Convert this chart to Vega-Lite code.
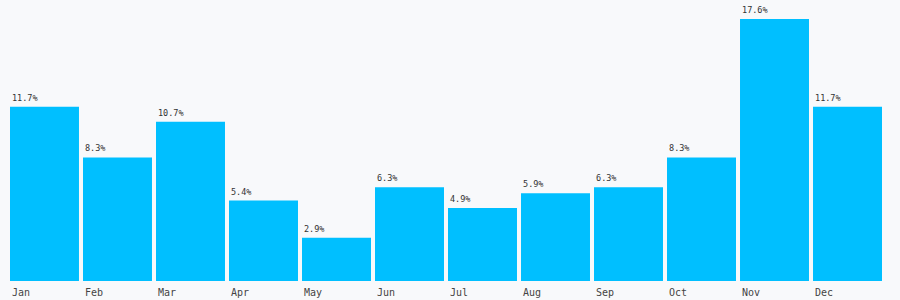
{
  "$schema": "https://vega.github.io/schema/vega-lite/v6.json",
  "width": 872,
  "height": 262,
  "autosize": {"type": "none"},
  "padding": {"left": 10, "top": 19, "right": 18, "bottom": 19},
  "background": "#f8f9fb",
  "config": {"view": {"stroke": null}},
  "data": {"values": [
    {"month": "Jan", "value": 11.7},
    {"month": "Feb", "value": 8.3},
    {"month": "Mar", "value": 10.7},
    {"month": "Apr", "value": 5.4},
    {"month": "May", "value": 2.9},
    {"month": "Jun", "value": 6.3},
    {"month": "Jul", "value": 4.9},
    {"month": "Aug", "value": 5.9},
    {"month": "Sep", "value": 6.3},
    {"month": "Oct", "value": 8.3},
    {"month": "Nov", "value": 17.6},
    {"month": "Dec", "value": 11.7}
  ]},
  "encoding": {
    "x": {
      "field": "month", "type": "nominal", "sort": null,
      "scale": {"paddingInner": 0.055, "paddingOuter": 0},
      "axis": {"title": null, "ticks": false, "domain": false, "labelAngle": 0,
        "labelAlign": "left", "labelOffset": -32.5, "labelPadding": 6,
        "labelFont": "DejaVu Sans Mono", "labelFontSize": 10, "labelColor": "#444444"}
    },
    "y": {
      "field": "value", "type": "quantitative",
      "scale": {"domain": [0, 17.6], "nice": false},
      "axis": null
    }
  },
  "layer": [
    {"mark": {"type": "bar", "color": "#00BFFF"}},
    {
      "transform": [{"calculate": "format(datum.value, '.1f') + '%'", "as": "label"}],
      "mark": {"type": "text", "align": "left", "baseline": "bottom", "dx": 2, "dy": -4,
        "font": "DejaVu Sans Mono", "fontSize": 8.5, "color": "#333333"},
      "encoding": {
        "x": {"field": "month", "type": "nominal", "sort": null, "bandPosition": 0},
        "text": {"field": "label", "type": "nominal"}
      }
    }
  ]
}
